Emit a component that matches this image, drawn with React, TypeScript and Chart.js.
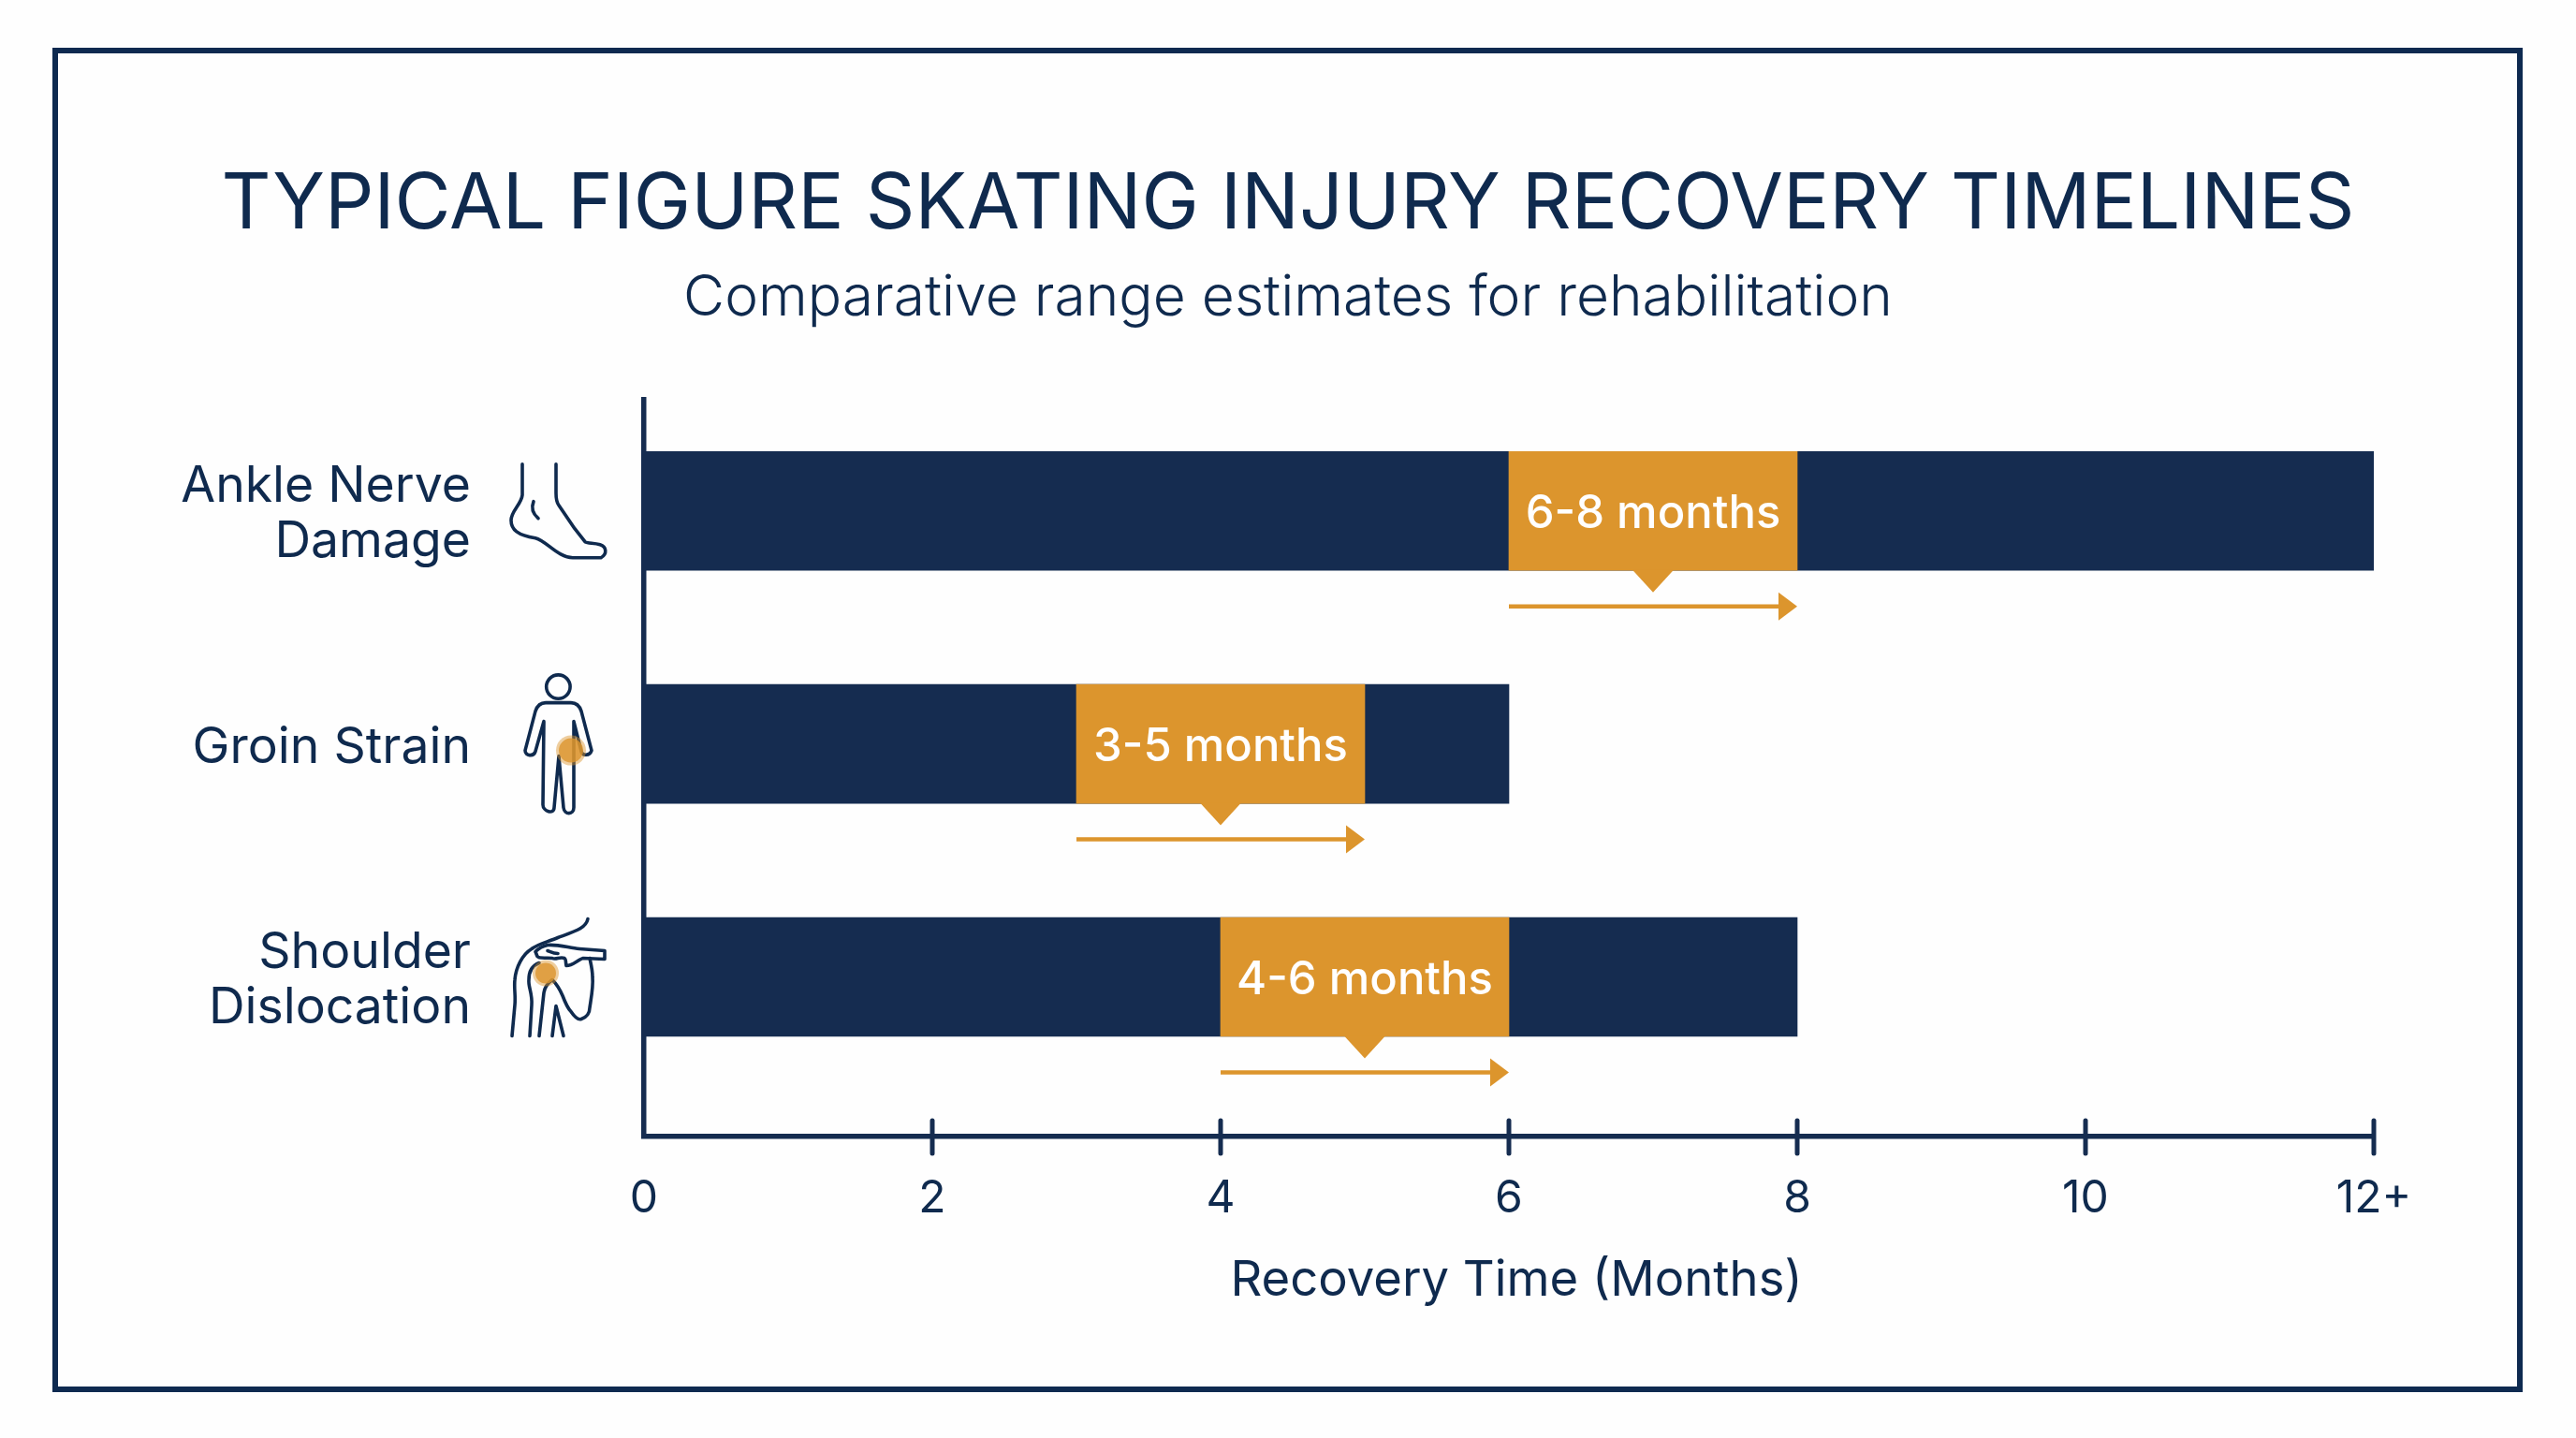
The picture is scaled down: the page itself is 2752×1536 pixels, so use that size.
import { useEffect, useRef } from "react";
import { Chart, registerables, type Plugin } from "chart.js";

Chart.register(...registerables);

const NAVY = "#152c50";
const TEXT = "#0f2a4e";
const ORANGE = "#dc952d";
const FONT = "Inter";

const categories = [["Ankle Nerve", "Damage"], ["Groin Strain"], ["Shoulder", "Dislocation"]];
const totalMonths = [12, 6, 8];
const rangeStart = [6, 3, 4];
const rangeEnd = [8, 5, 6];
const rangeLabels = ["6-8 months", "3-5 months", "4-6 months"];
const xTickLabels: Record<number, string> = { 0: "0", 2: "2", 4: "4", 6: "6", 8: "8", 10: "10", 12: "12+" };

// line icons, local coords around (600, bar centre)
const footPaths = [
  "M-42 -50 L-42 -17 C-43 -7 -54 0 -54 10 C-54 20 -47 26 -28 29 C-16 32 -4 50 12 50 C22 50 35 50 42 50 C49 46 48 38 41 36 C34 34 28 35 25 33 L14 19 L-3 -6 C-6 -10 -6 -15 -6 -19 L-6 -50",
  "M-30 -10 Q-34 0 -25 8",
];
const bodyPaths = [
  "M-19 -24 L-20 65 C-20 72 -8 76 -8 68 L-3 13 L2 68 C3 76 13 76 13 68 L13 -24 L21 8 C22 13 30 13 32 7 L21 -35 C19 -41 15 -44 10 -44 L-17 -44 C-22 -44 -26 -41 -28 -35 L-39 7 C-39 13 -30 14 -28 8 L-19 -24",
  "M9.1 -61 A12.7 12.7 0 1 0 -16.3 -61 A12.7 12.7 0 1 0 9.1 -61",
];
const shoulderPaths = [
  "M28 -62 C26 -52 15 -49 -4 -42 C-16 -37 -26 -35 -32 -30 C-42 -24 -49 -10 -50 3 C-51 12 -49 20 -50 30 L-53 63",
  "M-34 63 L-32 30 C-31 18 -36 10 -35 3 C-35 -6 -32 -12 -24 -15",
  "M-24 63 L-19 17 C-18 10 -14 6 -10 3 C-5 8 -2 13 1 20 C4 28 6 33 10 37 C14 43 18 46 21 45 C27 43 30 38 30 33 C32 20 34 10 33 0 C33 -8 31 -15 30 -20",
  "M-28 -27 C-24 -31 -20 -33 -15 -34 C-4 -35 8 -31 19 -30 L46 -28 L46 -19 L23 -20 C18 -19 12 -12 5 -12 C4 -16 5 -19 3 -20 C-2 -22 -6 -18 -10 -20 C-16 -21 -24 -19 -26 -22 Z",
  "M-15 -28 C-10 -26 -8 -25 -4 -25",
  "M-10 63 L-6 31 L2 63",
];
const icons = [
  { paths: footPaths, spot: null },
  { paths: bodyPaths, spot: [10, 7, 16] },
  { paths: shoulderPaths, spot: [-17, -4, 14] },
];

const overlayPlugin: Plugin<"bar"> = {
  id: "overlay",
  afterLayout(chart) {
    // tick labels get clipped to the scale box, so open it to the canvas edge
    chart.scales.y.left = 0;
  },
  beforeDatasetsDraw(chart) {
    const { ctx } = chart;
    const x = chart.scales.x;
    const y = chart.scales.y;
    ctx.save();
    ctx.strokeStyle = NAVY;
    ctx.lineCap = "round";
    ctx.lineWidth = 5;
    x.ticks.forEach((tick, i) => {
      if (tick.value === 0) return;
      const px = x.getPixelForTick(i);
      ctx.beginPath();
      ctx.moveTo(px, y.bottom - 17);
      ctx.lineTo(px, y.bottom + 18);
      ctx.stroke();
    });
    ctx.restore();
  },
  afterDatasetsDraw(chart) {
    const { ctx } = chart;
    const x = chart.scales.x;
    const y = chart.scales.y;
    ctx.save();
    rangeStart.forEach((start, i) => {
      const x0 = x.getPixelForValue(start);
      const x1 = x.getPixelForValue(rangeEnd[i]);
      const cy = y.getPixelForValue(i);
      const mid = (x0 + x1) / 2;
      ctx.fillStyle = ORANGE;
      ctx.strokeStyle = ORANGE;

      // callout notch under the highlighted range
      ctx.beginPath();
      ctx.moveTo(mid - 22, cy + 63);
      ctx.lineTo(mid + 22, cy + 63);
      ctx.lineTo(mid, cy + 87);
      ctx.closePath();
      ctx.fill();

      // arrow
      ctx.lineWidth = 4.5;
      ctx.beginPath();
      ctx.moveTo(x0, cy + 102);
      ctx.lineTo(x1 - 18, cy + 102);
      ctx.stroke();
      ctx.beginPath();
      ctx.moveTo(x1 - 20, cy + 87);
      ctx.lineTo(x1, cy + 102);
      ctx.lineTo(x1 - 20, cy + 117);
      ctx.closePath();
      ctx.fill();

      ctx.fillStyle = "#ffffff";
      ctx.font = `500 49px ${FONT}`;
      ctx.textAlign = "center";
      ctx.textBaseline = "middle";
      ctx.fillText(rangeLabels[i], mid, cy + 4);

      // icon
      const icon = icons[i];
      ctx.save();
      ctx.translate(600, cy);
      ctx.strokeStyle = TEXT;
      ctx.lineWidth = 3.6;
      ctx.lineCap = "round";
      ctx.lineJoin = "round";
      icon.paths.forEach((d) => ctx.stroke(new Path2D(d)));
      if (icon.spot) {
        const [sx, sy, r] = icon.spot;
        ctx.fillStyle = "rgba(220,149,45,0.45)";
        ctx.beginPath();
        ctx.arc(sx, sy, r, 0, Math.PI * 2);
        ctx.fill();
        ctx.fillStyle = "rgba(220,149,45,0.8)";
        ctx.beginPath();
        ctx.arc(sx, sy, r - 3, 0, Math.PI * 2);
        ctx.fill();
      }
      ctx.restore();
    });

    ctx.fillStyle = TEXT;
    ctx.font = `400 52.6px ${FONT}`;
    ctx.textAlign = "center";
    ctx.textBaseline = "middle";
    ctx.fillText("Recovery Time (Months)", x.getPixelForValue(6) + 8, y.bottom + 154);
    ctx.restore();
  },
};

function RecoveryChart() {
  const canvasRef = useRef<HTMLCanvasElement>(null);

  useEffect(() => {
    if (!canvasRef.current) return;
    const chart = new Chart(canvasRef.current, {
      type: "bar",
      data: {
        datasets: [
          {
            label: "Highlighted range",
            data: rangeStart.map((s, i) => ({ x: [s, rangeEnd[i]], y: i })) as any,
            backgroundColor: ORANGE,
            order: 1,
          },
          {
            label: "Full range",
            data: totalMonths.map((t, i) => ({ x: [0, t], y: i })) as any,
            backgroundColor: NAVY,
            order: 2,
          },
        ],
      },
      options: {
        indexAxis: "y",
        responsive: true,
        maintainAspectRatio: false,
        animation: false,
        layout: { padding: { left: 216, right: 216, top: 0, bottom: 0 } },
        datasets: { bar: { grouped: false, barThickness: 127, borderWidth: 0 } },
        plugins: {
          legend: { display: false },
          tooltip: { enabled: false },
          title: {
            display: true,
            text: "TYPICAL FIGURE SKATING INJURY RECOVERY TIMELINES",
            color: TEXT,
            font: { family: FONT, size: 82.2, weight: 400, lineHeight: 1.2 },
            padding: { top: 170, bottom: 14 },
          },
          subtitle: {
            display: true,
            text: "Comparative range estimates for rehabilitation",
            color: TEXT,
            font: { family: FONT, size: 60.5, weight: 300, lineHeight: 1.2 },
            padding: { top: 0, bottom: 72 },
          },
        },
        scales: {
          x: {
            type: "linear",
            min: 0,
            max: 12,
            grid: { display: false },
            border: { color: NAVY, width: 5.5 },
            afterFit: (s) => {
              s.height = 322;
            },
            ticks: {
              stepSize: 2,
              color: TEXT,
              padding: 30,
              font: { family: FONT, size: 48 },
              callback: (v) => xTickLabels[Number(v)],
            },
          },
          y: {
            type: "linear",
            reverse: true,
            offset: false,
            min: -0.476,
            max: 2.685,
            grid: { display: false },
            border: { color: NAVY, width: 5.5 },
            afterFit: (s) => {
              s.width = 472;
            },
            afterBuildTicks: (s) => {
              s.ticks = categories.map((_, i) => ({ value: i }));
            },
            ticks: {
              color: TEXT,
              padding: 177,
              labelOffset: 4,
              font: { family: FONT, size: 53.5, lineHeight: 1.11 },
              callback: (v) => categories[Number(v)],
            },
          },
        },
      },
      plugins: [overlayPlugin],
    });

    return () => chart.destroy();
  }, []);

  return <canvas ref={canvasRef} role="img" aria-label="Typical figure skating injury recovery timelines" />;
}

export default function App() {
  useEffect(() => {
    document.body.style.margin = "0";
    document.body.style.background = "#fefefe";
  }, []);

  return (
    <div style={{ position: "absolute", left: 0, top: 0, width: 2752, height: 1536 }}>
      <div
        style={{
          position: "absolute",
          left: 56,
          top: 51,
          width: 2639,
          height: 1436,
          boxSizing: "border-box",
          border: "6px solid #0e2a50",
        }}
      />
      <div style={{ position: "absolute", inset: 0 }}>
        <RecoveryChart />
      </div>
    </div>
  );
}
